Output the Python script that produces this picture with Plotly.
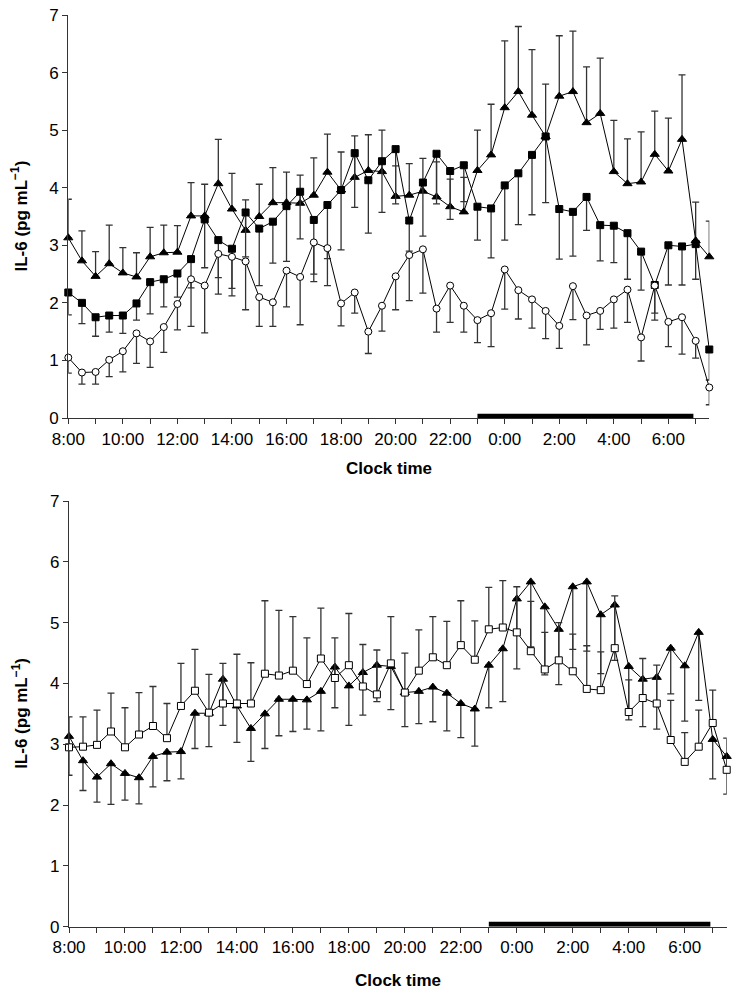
import plotly.graph_objects as go

W, H = 740, 995

times = ["8:00", "8:30", "9:00", "9:30", "10:00", "10:30", "11:00", "11:30",
         "12:00", "12:30", "13:00", "13:30", "14:00", "14:30", "15:00", "15:30",
         "16:00", "16:30", "17:00", "17:30", "18:00", "18:30", "19:00", "19:30",
         "20:00", "20:30", "21:00", "21:30", "22:00", "22:30", "23:00", "23:30",
         "0:00", "0:30", "1:00", "1:30", "2:00", "2:30", "3:00", "3:30",
         "4:00", "4:30", "5:00", "5:30", "6:00", "6:30", "7:00", "7:30"]

# filled triangles (shown in both panels)
tri = [3.13, 2.73, 2.46, 2.68, 2.52, 2.45, 2.80, 2.87, 2.88, 3.51, 3.51, 4.07,
       3.63, 3.26, 3.50, 3.74, 3.74, 3.73, 3.87, 4.27, 3.96, 4.18, 4.30, 4.28,
       3.85, 3.87, 3.94, 3.84, 3.67, 3.58, 4.30, 4.57, 5.39, 5.67, 5.26, 4.89,
       5.59, 5.67, 5.13, 5.29, 4.28, 4.07, 4.10, 4.58, 4.29, 4.84, 3.08, 2.80]
tri_upper = [3.80, 3.25, 2.89, 3.35, 2.96, 2.87, 3.31, 3.35, 3.34, 4.09, 4.06, 4.84,
             4.25, 3.79, 4.06, 4.35, 4.27, 4.22, 4.52, 4.93, 4.62, 4.90, 4.92, 5.00,
             4.38, 4.42, 4.51, 4.45, 4.15, 4.18, 5.00, 5.45, 6.55, 6.80, 6.40, 5.80,
             6.64, 6.72, 6.10, 6.25, 5.17, 4.85, 4.97, 5.33, 5.21, 5.96, 3.75, 3.42]
tri_lower = [2.49, 2.24, 2.05, 2.01, 2.08, 2.02, 2.30, 2.40, 2.43, 2.93, 2.96, 3.31,
             3.03, 2.72, 2.93, 3.14, 3.21, 3.25, 3.22, 3.60, 3.31, 3.48, 3.70, 3.57,
             3.29, 3.34, 3.37, 3.22, 3.11, 2.97, 3.60, 3.70, 4.24, 4.60, 4.14, 3.98,
             4.56, 4.53, 4.16, 4.38, 3.40, 3.29, 3.25, 3.83, 3.38, 3.72, 2.43, 2.18]

# filled squares (top panel)
sq = [2.18, 2.00, 1.75, 1.78, 1.78, 1.99, 2.36, 2.41, 2.51, 2.76, 3.45, 3.09,
      2.94, 3.57, 3.29, 3.41, 3.68, 3.93, 3.44, 3.70, 3.96, 4.60, 4.13, 4.46,
      4.67, 3.43, 4.09, 4.59, 4.29, 4.39, 3.67, 3.64, 4.04, 4.25, 4.57, 4.89,
      3.63, 3.58, 3.84, 3.35, 3.34, 3.21, 2.89, 2.31, 3.00, 2.98, 3.02, 1.19]
sq_lower = [1.79, 1.64, 1.42, 1.49, 1.47, 1.70, 1.81, 1.93, 2.10, 2.26, 2.61, 2.44,
            2.25, 2.80, 2.30, 2.69, 2.72, 3.11, 2.50, 2.77, 2.92, 3.66, 3.21, 3.57,
            3.72, 2.90, 3.16, 3.72, 3.45, 3.76, 3.09, 2.78, 3.09, 3.36, 3.53, 3.74,
            2.76, 2.81, 3.26, 2.73, 2.70, 2.41, 2.22, 1.70, 2.31, 2.31, 2.41, 0.66]

# open circles (top panel)
circ = [1.05, 0.79, 0.80, 1.01, 1.16, 1.47, 1.33, 1.58, 1.98, 2.41, 2.30, 2.85,
        2.80, 2.72, 2.10, 2.01, 2.56, 2.45, 3.05, 2.95, 1.99, 2.18, 1.50, 1.95,
        2.46, 2.83, 2.93, 1.90, 2.30, 1.95, 1.70, 1.82, 2.58, 2.22, 2.06, 1.86,
        1.60, 2.29, 1.78, 1.86, 2.06, 2.23, 1.40, 2.30, 1.67, 1.75, 1.34, 0.53]
circ_lower = [0.78, 0.59, 0.59, 0.72, 0.80, 0.95, 0.88, 1.14, 1.53, 1.59, 1.48, 2.15,
              2.12, 1.88, 1.59, 1.59, 1.93, 1.62, 2.37, 2.30, 1.60, 1.82, 1.12, 1.51,
              1.88, 2.04, 2.17, 1.49, 1.66, 1.49, 1.31, 1.24, 1.89, 1.72, 1.56, 1.38,
              1.21, 1.71, 1.27, 1.54, 1.56, 1.66, 0.99, 1.82, 1.24, 1.11, 1.04, 0.23]

# open squares (bottom panel)
osq = [2.95, 2.96, 2.99, 3.21, 2.95, 3.16, 3.30, 3.10, 3.63, 3.88, 3.52, 3.67,
       3.67, 3.67, 4.16, 4.13, 4.21, 3.99, 4.41, 4.09, 4.30, 3.95, 3.82, 4.33,
       3.85, 4.21, 4.43, 4.30, 4.63, 4.39, 4.89, 4.92, 4.84, 4.53, 4.23, 4.38,
       4.20, 3.91, 3.89, 4.58, 3.53, 3.76, 3.67, 3.07, 2.71, 2.96, 3.35, 2.58]
osq_upper = [3.45, 3.45, 3.56, 3.84, 3.60, 3.85, 3.95, 3.67, 4.33, 4.56, 4.15, 4.33,
             4.48, 4.34, 5.36, 5.20, 5.10, 4.75, 5.24, 4.75, 5.15, 4.64, 4.55, 5.10,
             4.50, 4.88, 5.10, 5.02, 5.36, 5.03, 5.58, 5.69, 5.59, 5.35, 4.84, 5.00,
             4.81, 4.62, 4.52, 5.44, 4.06, 4.41, 4.30, 3.72, 3.19, 3.56, 3.89, 3.10]

tick_labels = ["8:00", "10:00", "12:00", "14:00", "16:00", "18:00",
               "20:00", "22:00", "0:00", "2:00", "4:00", "6:00"]
y_ticks = [0, 1, 2, 3, 4, 5, 6, 7]
night_start, night_end = "23:00", "6:55"


def to_hours(t):
    h, m = t.split(":")
    v = int(h) + int(m) / 60.0
    return v + 24 if v < 8 else v


x = [to_hours(t) for t in times]
tick_vals = [to_hours(t) for t in tick_labels]


def diff(a, b):
    return [round(p - q, 3) for p, q in zip(a, b)]


zeros = [0] * len(x)
EC = "#333333"

fig = go.Figure()


def add(series, up, down, symbol, fill, size, xa, ya):
    fig.add_trace(go.Scatter(
        x=x, y=series, mode="lines+markers", xaxis=xa, yaxis=ya,
        line=dict(color="black", width=1),
        marker=dict(symbol=symbol, size=size, color=fill,
                    line=dict(color="black", width=1)),
        error_y=dict(type="data", symmetric=False, array=up, arrayminus=down,
                     color=EC, thickness=1.3, width=3.5),
        cliponaxis=False, showlegend=False, hoverinfo="skip"))


# top panel
add(tri, diff(tri_upper, tri), zeros, "triangle-up", "black", 8, "x", "y")
add(sq, zeros, diff(sq, sq_lower), "square", "black", 7, "x", "y")
add(circ, zeros, diff(circ, circ_lower), "circle", "white", 7, "x", "y")
# bottom panel
add(tri, zeros, diff(tri, tri_lower), "triangle-up", "black", 8, "x2", "y2")
add(osq, diff(osq_upper, osq), zeros, "square", "white", 7, "x2", "y2")

top_px = (15, 418)
bot_px = (501, 926.7)
top_x = (68.3, 709.3)
bot_x = (69, 726.7)

axis_common = dict(showline=True, linecolor="#333333", linewidth=1.2,
                   ticks="outside", ticklen=5, tickwidth=1, tickcolor="#333333",
                   showgrid=False, zeroline=False, automargin=False,
                   tickfont=dict(family="Liberation Sans, Arial", size=17, color="black"))
minor_x = dict(tick0=8, dtick=1, ticks="outside", ticklen=5, tickwidth=1,
               tickcolor="#333333", showgrid=False)

fig.update_layout(
    template="none",
    width=W, height=H, margin=dict(l=0, r=0, t=0, b=0, pad=0),
    paper_bgcolor="white", plot_bgcolor="white",
    xaxis=dict(domain=[top_x[0] / W, top_x[1] / W], range=[8, 31.5], anchor="y",
               tickmode="array", tickvals=tick_vals, ticktext=tick_labels,
               minor=minor_x, **axis_common),
    yaxis=dict(domain=[1 - top_px[1] / H, 1 - top_px[0] / H], range=[0, 7], anchor="x",
               tickmode="array", tickvals=y_ticks, **axis_common),
    xaxis2=dict(domain=[bot_x[0] / W, bot_x[1] / W], range=[8, 31.5], anchor="y2",
                tickmode="array", tickvals=tick_vals, ticktext=tick_labels,
                minor=minor_x, **axis_common),
    yaxis2=dict(domain=[1 - bot_px[1] / H, 1 - bot_px[0] / H], range=[0, 7], anchor="x2",
                tickmode="array", tickvals=y_ticks, **axis_common),
)

ns, ne = to_hours(night_start), to_hours(night_end)
for xr, yr, h in (("x", "y", 0.075), ("x2", "y2", 0.08)):
    fig.add_shape(type="rect", xref=xr, yref=yr, x0=ns, x1=ne, y0=0, y1=h,
                  fillcolor="black", line=dict(width=0), layer="above")

title_font = dict(family="Liberation Sans, Arial", size=17, color="black")
for xc, yc in (((top_x[0] + top_x[1]) / 2, 468), ((bot_x[0] + bot_x[1]) / 2, 980)):
    fig.add_annotation(text="<b>Clock time</b>", xref="paper", yref="paper",
                       x=xc / W, y=1 - yc / H, showarrow=False, font=title_font,
                       xanchor="center", yanchor="middle")
for yc in ((top_px[0] + top_px[1]) / 2, (bot_px[0] + bot_px[1]) / 2):
    fig.add_annotation(text="<b>IL-6 (pg mL<sup>−1</sup>)</b>", xref="paper", yref="paper",
                       x=20 / W, y=1 - yc / H, showarrow=False, font=title_font,
                       textangle=-90, xanchor="center", yanchor="middle")

fig.write_html("out.html", config={"displayModeBar": False, "staticPlot": True},
               post_script="document.body.style.margin='0';document.body.style.overflow='hidden';")
